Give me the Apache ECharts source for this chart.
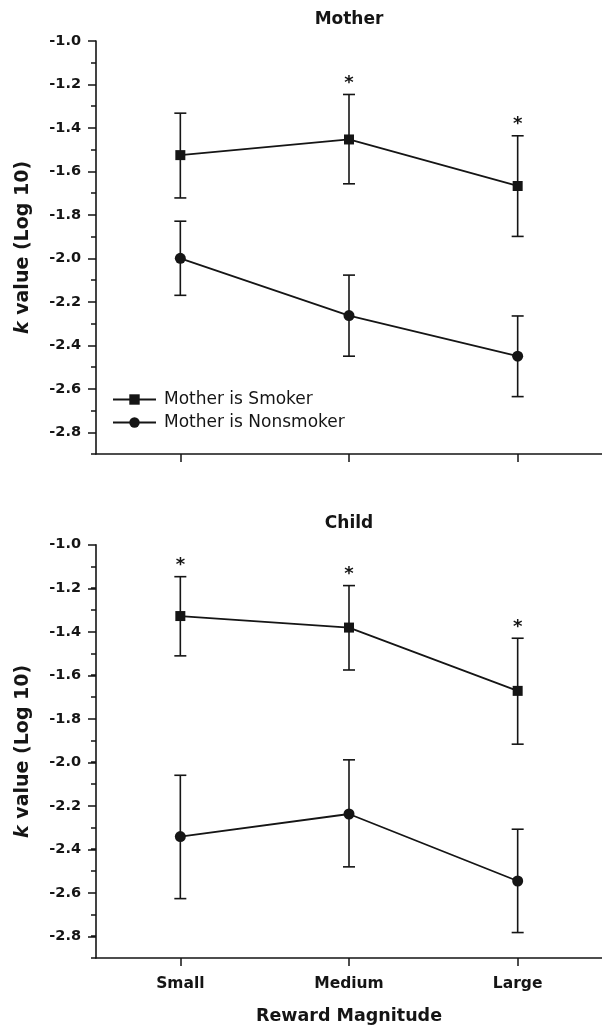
<!DOCTYPE html>
<html><head><meta charset="utf-8">
<script src="https://cdn.jsdelivr.net/npm/echarts@6/dist/echarts.min.js"></script>
<style>html,body{margin:0;padding:0;background:#fff}#c{width:602px;height:1026px}</style>
</head><body><div id="c"></div>
<script>
// ---- data ----
const categories = ['Small', 'Medium', 'Large'];
const seriesNames = ['Mother is Smoker', 'Mother is Nonsmoker'];
const panelTitles = ['Mother', 'Child'];

const motherSmokerMean = [-1.525, -1.453, -1.667];
const motherSmokerLow  = [-1.722, -1.657, -1.899];
const motherSmokerHigh = [-1.332, -1.246, -1.436];
const motherSmokerStar = [0, 1, 1];

const motherNonMean = [-2.000, -2.263, -2.450];
const motherNonLow  = [-2.170, -2.450, -2.636];
const motherNonHigh = [-1.829, -2.077, -2.265];
const motherNonStar = [0, 0, 0];

const childSmokerMean = [-1.328, -1.381, -1.672];
const childSmokerLow  = [-1.511, -1.576, -1.917];
const childSmokerHigh = [-1.147, -1.188, -1.430];
const childSmokerStar = [1, 1, 1];

const childNonMean = [-2.342, -2.238, -2.546];
const childNonLow  = [-2.627, -2.481, -2.783];
const childNonHigh = [-2.060, -1.989, -2.308];
const childNonStar = [0, 0, 0];

const yAxisMin = -2.9, yAxisMax = -1.0, yMajorMin = -2.8, yMajorStep = 0.2, yMinorStep = 0.1;

// ---- layout ----
const FONT = 'DejaVu Sans';
const INK = '#151515';
const panels = [
  { top: 41, height: 413, showLabels: false },
  { top: 544.7, height: 413.8, showLabels: true }
];
const gridLeft = 96, gridWidth = 510;

function errRender(params, api) {
  const x = api.value(0), lo = api.value(1), hi = api.value(2), star = api.value(3);
  const pLo = api.coord([x, lo]);
  const pHi = api.coord([x, hi]);
  const cap = 6;
  const style = { stroke: INK, lineWidth: 1.6 };
  const children = [
    { type: 'line', shape: { x1: pLo[0], y1: pLo[1], x2: pHi[0], y2: pHi[1] }, style },
    { type: 'line', shape: { x1: pLo[0] - cap, y1: pLo[1], x2: pLo[0] + cap, y2: pLo[1] }, style },
    { type: 'line', shape: { x1: pHi[0] - cap, y1: pHi[1], x2: pHi[0] + cap, y2: pHi[1] }, style }
  ];
  if (star) {
    children.push({ type: 'text', style: { text: '*', x: pHi[0], y: pHi[1] - 11, align: 'center', verticalAlign: 'middle', font: 'bold 18px "' + FONT + '"', fill: INK } });
  }
  return { type: 'group', children };
}

function errData(lo, hi, st) {
  return lo.map((v, i) => [i, v, hi[i], st[i]]);
}

const grid = [], xAxis = [], yAxis = [], series = [], graphic = [];
const panelData = [
  { sm: motherSmokerMean, sl: motherSmokerLow, sh: motherSmokerHigh, ss: motherSmokerStar,
    nm: motherNonMean, nl: motherNonLow, nh: motherNonHigh, ns: motherNonStar },
  { sm: childSmokerMean, sl: childSmokerLow, sh: childSmokerHigh, ss: childSmokerStar,
    nm: childNonMean, nl: childNonLow, nh: childNonHigh, ns: childNonStar }
];

panels.forEach((p, k) => {
  const full = grid.length;
  grid.push({ left: gridLeft, top: p.top, width: gridWidth, height: p.height });
  const majorH = p.height * (yAxisMax - yMajorMin) / (yAxisMax - yAxisMin);
  grid.push({ left: gridLeft, top: p.top, width: gridWidth, height: majorH });

  xAxis.push({
    type: 'category', gridIndex: full, data: categories, boundaryGap: true,
    axisLine: { show: true, lineStyle: { color: INK, width: 1.6 } },
    axisTick: { show: true, alignWithLabel: true, inside: false, length: 8, lineStyle: { color: INK, width: 1.5 } },
    axisLabel: { show: true, margin: 18, color: p.showLabels ? INK : 'rgba(0,0,0,0)', fontFamily: FONT, fontWeight: 'bold', fontSize: 15.5 },
    name: p.showLabels ? 'Reward Magnitude' : '', nameLocation: 'middle', nameGap: 49,
    nameTextStyle: { color: INK, fontFamily: FONT, fontWeight: 'bold', fontSize: 17.5 },
    splitLine: { show: false }
  });
  xAxis.push({ type: 'category', gridIndex: full + 1, data: categories, show: false });

  yAxis.push({
    type: 'value', gridIndex: full, min: yAxisMin, max: yAxisMax, interval: yMinorStep,
    axisLine: { show: true, lineStyle: { color: INK, width: 1.6 } },
    axisTick: { show: true, length: 5, lineStyle: { color: INK, width: 1.5 } },
    axisLabel: { show: false }, splitLine: { show: false },
    name: '{k|k} value (Log 10)', nameLocation: 'middle', nameGap: 63,
    nameTextStyle: { color: INK, fontFamily: FONT, fontWeight: 'bold', fontSize: 19,
      rich: { k: { fontStyle: 'italic', fontWeight: 'bold', fontFamily: FONT, fontSize: 19, color: INK } } }
  });
  yAxis.push({
    type: 'value', gridIndex: full + 1, min: yMajorMin, max: yAxisMax, interval: yMajorStep,
    axisLine: { show: false },
    axisTick: { show: true, length: 8, lineStyle: { color: INK, width: 1.5 } },
    axisLabel: { margin: 15, color: INK, fontFamily: FONT, fontWeight: 'bold', fontSize: 14.5,
      formatter: v => v.toFixed(1) },
    splitLine: { show: false }
  });

  const d = panelData[k];
  series.push({
    name: seriesNames[0], type: 'line', xAxisIndex: full, yAxisIndex: full, data: d.sm,
    symbol: 'rect', symbolSize: 10, z: 5,
    lineStyle: { color: INK, width: 1.8 }, itemStyle: { color: INK }, animation: false
  });
  series.push({
    name: seriesNames[1], type: 'line', xAxisIndex: full, yAxisIndex: full, data: d.nm,
    symbol: 'circle', symbolSize: 11, z: 5,
    lineStyle: { color: INK, width: 1.8 }, itemStyle: { color: INK }, animation: false
  });
  series.push({
    name: 'err-s-' + k, type: 'custom', xAxisIndex: full, yAxisIndex: full,
    data: errData(d.sl, d.sh, d.ss), renderItem: errRender, encode: { x: 0, y: [1, 2] }, z: 3, animation: false
  });
  series.push({
    name: 'err-n-' + k, type: 'custom', xAxisIndex: full, yAxisIndex: full,
    data: errData(d.nl, d.nh, d.ns), renderItem: errRender, encode: { x: 0, y: [1, 2] }, z: 3, animation: false
  });

  graphic.push({
    type: 'text', x: 349, y: p.top - 21,
    style: { text: panelTitles[k], font: 'bold 17px "' + FONT + '"', fill: INK, align: 'center', verticalAlign: 'middle' }
  });
});

const chart = echarts.init(document.getElementById('c'), null, { renderer: 'canvas' });
chart.setOption({
  backgroundColor: '#fff',
  animation: false,
  grid, xAxis, yAxis, series, graphic,
  legend: {
    data: seriesNames, orient: 'vertical', left: 112, top: 391, padding: 0,
    itemWidth: 43, itemHeight: 13, itemGap: 6,
    textStyle: { fontFamily: FONT, fontSize: 17, color: INK, padding: [0, 0, 0, 3] },
    selectedMode: false
  }
});
</script></body></html>
